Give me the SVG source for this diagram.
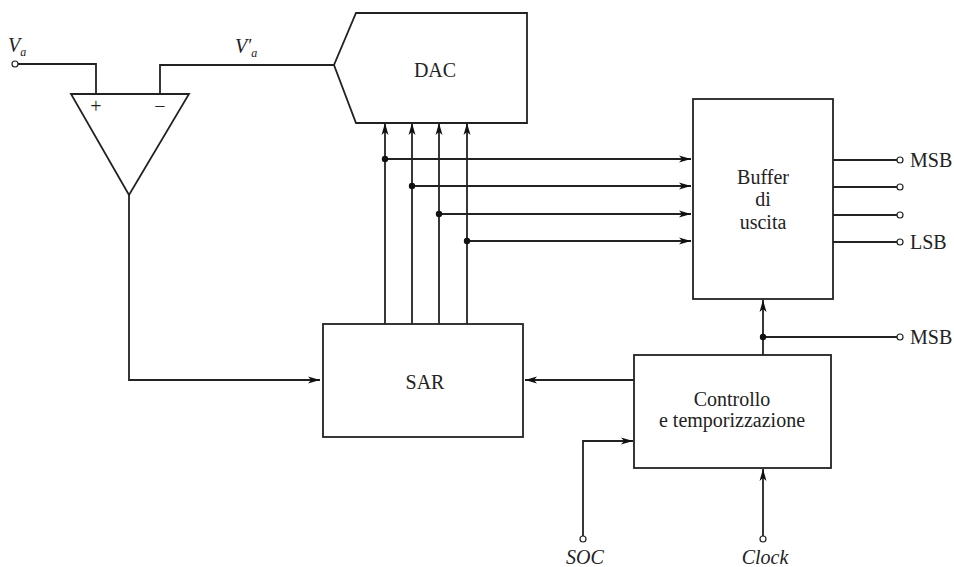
<svg xmlns="http://www.w3.org/2000/svg" width="954" height="567" viewBox="0 0 954 567">
<defs>
<marker id="ah" viewBox="0 0 12 8" refX="12" refY="4" markerWidth="12" markerHeight="8" markerUnits="userSpaceOnUse" orient="auto">
<path d="M0,0.5 L12,4 L0,7.5 L3,4 Z" fill="#111"/>
</marker>
</defs>
<style>
.ln{fill:none;stroke:#222;stroke-width:1.8}
.bx{fill:#fff;stroke:#222;stroke-width:1.8}
.t{font-family:"Liberation Serif","Times New Roman",serif;font-size:20px;fill:#222}
.i{font-style:italic}
.term{fill:#fff;stroke:#222;stroke-width:1.2}
.dot{fill:#111}
</style>
<rect width="954" height="567" fill="#fff"/>
<g id="connectors">
<path class="ln" d="M18,64 H96 V94"/>
<path class="ln" d="M160,94 V65 H334"/>
<path class="ln" d="M129,195 V380 H320" marker-end="url(#ah)"/>
<path class="ln" d="M385,324 V123" marker-end="url(#ah)"/>
<path class="ln" d="M412,324 V123" marker-end="url(#ah)"/>
<path class="ln" d="M439,324 V123" marker-end="url(#ah)"/>
<path class="ln" d="M467,324 V123" marker-end="url(#ah)"/>
<path class="ln" d="M385,159 H691" marker-end="url(#ah)"/>
<path class="ln" d="M412,186 H691" marker-end="url(#ah)"/>
<path class="ln" d="M439,214 H691" marker-end="url(#ah)"/>
<path class="ln" d="M467,241 H691" marker-end="url(#ah)"/>
<circle class="dot" cx="385" cy="159" r="3.2"/>
<circle class="dot" cx="412" cy="186" r="3.2"/>
<circle class="dot" cx="439" cy="214" r="3.2"/>
<circle class="dot" cx="467" cy="241" r="3.2"/>
<path class="ln" d="M833,160 H897"/>
<path class="ln" d="M833,187 H897"/>
<path class="ln" d="M833,215 H897"/>
<path class="ln" d="M833,242 H897"/>
<path class="ln" d="M634,380 H525" marker-end="url(#ah)"/>
<path class="ln" d="M763,355 V300" marker-end="url(#ah)"/>
<path class="ln" d="M763,337 H897"/>
<circle class="dot" cx="763" cy="337" r="3.2"/>
<path class="ln" d="M583,536 V441 H633" marker-end="url(#ah)"/>
<path class="ln" d="M763,536 V469" marker-end="url(#ah)"/>
</g>
<g id="terminals">
<circle class="term" cx="15" cy="64" r="3"/>
<circle class="term" cx="900" cy="160" r="3"/>
<circle class="term" cx="900" cy="187" r="3"/>
<circle class="term" cx="900" cy="215" r="3"/>
<circle class="term" cx="900" cy="242" r="3"/>
<circle class="term" cx="900" cy="337" r="3"/>
<circle class="term" cx="583" cy="539" r="3"/>
<circle class="term" cx="763" cy="539" r="3"/>
</g>
<g id="comparator">
<path class="bx" d="M71,94 H189 L129,195 Z"/>
<text class="t" x="96" y="113" text-anchor="middle" font-size="18">+</text>
<text class="t" x="160" y="113" text-anchor="middle" font-size="18">−</text>
</g>
<g id="dac">
<path class="bx" d="M356,13 H527 V123 H356 L334,65 Z"/>
<text class="t" x="435" y="77" text-anchor="middle">DAC</text>
</g>
<g id="buffer">
<rect class="bx" x="693" y="99" width="140" height="200"/>
<text class="t" x="763" y="184" text-anchor="middle">Buffer</text>
<text class="t" x="763" y="206" text-anchor="middle">di</text>
<text class="t" x="763" y="229" text-anchor="middle">uscita</text>
</g>
<g id="sar">
<rect class="bx" x="323" y="324" width="200" height="113"/>
<text class="t" x="425" y="389" text-anchor="middle">SAR</text>
</g>
<g id="control">
<rect class="bx" x="634" y="355" width="197" height="113"/>
<text class="t" x="732" y="406" text-anchor="middle">Controllo</text>
<text class="t" x="732" y="427" text-anchor="middle">e temporizzazione</text>
</g>
<g id="labels">
<text class="t i" x="8" y="52">V<tspan font-size="12" dy="4">a</tspan></text>
<text class="t i" x="235" y="53">V<tspan font-size="18" dy="-1">′</tspan><tspan font-size="12" dy="5">a</tspan></text>
<text class="t" x="910" y="167">MSB</text>
<text class="t" x="910" y="249">LSB</text>
<text class="t" x="910" y="344">MSB</text>
<text class="t i" x="585" y="564" text-anchor="middle">SOC</text>
<text class="t i" x="765" y="564" text-anchor="middle">Clock</text>
</g>
</svg>
